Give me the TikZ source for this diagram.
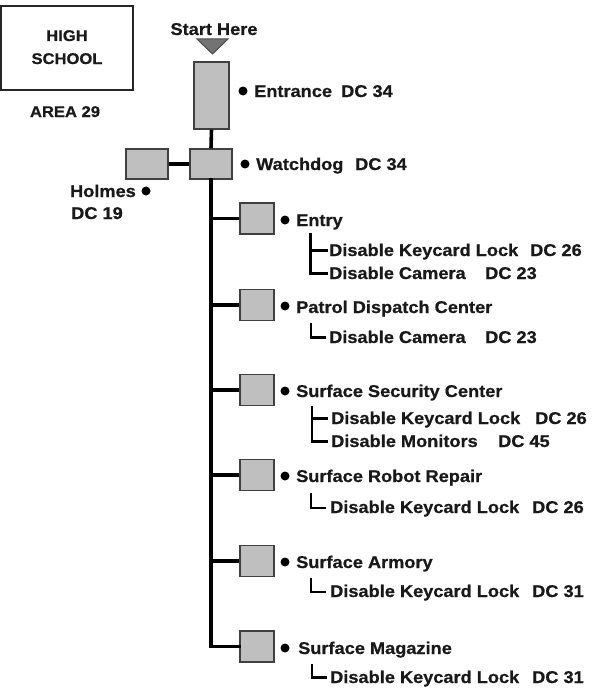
\documentclass[tikz,border=0pt]{standalone}
\usepackage{fontspec}
\setmainfont{Liberation Sans}[FakeStretch=1.07,BoldFeatures={FakeBold=0.7}]
\begin{document}
\begin{tikzpicture}[x=1pt,y=-1pt,
  lbl/.style={anchor=base west,inner sep=0pt,font=\bfseries\fontsize{17}{20}\selectfont,text=black!90},
  captxt/.style={anchor=base,inner sep=0pt,font=\bfseries\fontsize{15.5}{18}\selectfont,text=black!90},
  room/.style={draw=black!75,line width=1.5pt,fill=black!25,inner sep=0pt,minimum width=34pt,minimum height=31pt},
  bullet/.style={circle,fill=black,inner sep=0pt,minimum size=9pt},
  trunk/.style={line width=3.6pt,black},
  sub/.style={line width=2.4pt,black}]
\useasboundingbox (0,0) rectangle (601,693);

% title block
\node[draw=black!85,line width=1.6pt,minimum width=132pt,minimum height=84pt,inner sep=0pt] (school) at (67,48) {};
\node[captxt] (high) at (67,41) {HIGH};
\node[captxt] (schooltxt) at (67,64) {SCHOOL};
\node[captxt] (area) at (65,117) {AREA 29};

% start marker
\node[lbl,anchor=base] (start) at (214,35) {Start Here};
\draw[fill=black!55,draw=black!70,line width=1pt] (197,39) -- (228,39) -- (212.5,54) -- cycle;

% top rooms
\node[room,minimum width=35pt,minimum height=67pt] (entrance) at (211.5,95.5) {};
\node[room,minimum width=42pt,minimum height=30pt] (watchdog) at (211,164) {};
\node[room,minimum width=42pt,minimum height=30pt] (holmes) at (147,164) {};

% branch rooms
\node[room] (entry) at (257,218.5) {};
\node[room] (patrol) at (257,305) {};
\node[room] (security) at (257,390) {};
\node[room] (robot) at (257,475) {};
\node[room] (armory) at (257,561) {};
\node[room] (magazine) at (257,646.5) {};

% connectors
\draw[trunk] (entrance.south) -- (watchdog.north);
\draw[trunk] (holmes.east) -- (watchdog.west);
\draw[trunk,line cap=rect] (watchdog.south) |- (magazine.west);
\foreach \r in {entry,patrol,security,robot,armory}
  \draw[trunk] (\r.west -| watchdog.south) -- (\r.west);

% bullets
\node[bullet] (b0) at (243,91) {};
\node[bullet] (b1) at (245,164) {};
\node[bullet] (b2) at (146,191) {};
\foreach \n/\y in {3/220,4/306,5/391,6/476,7/562,8/648}
  \node[bullet] (b\n) at (285,\y) {};

% room labels
\node[lbl] (tEntrance) at (254,97) {Entrance};
\node[lbl] (dEntrance) at (341,97) {DC 34};
\node[lbl] (tWatch) at (256,170) {Watchdog};
\node[lbl] (dWatch) at (355,170) {DC 34};
\node[lbl,anchor=base east] (tHolmes) at (136,197) {Holmes};
\node[lbl,anchor=base] (dHolmes) at (97,219) {DC 19};
\node[lbl] (tEntry) at (296,226) {Entry};
\node[lbl] (tPatrol) at (296,313) {Patrol Dispatch Center};
\node[lbl] (tSecurity) at (296,397) {Surface Security Center};
\node[lbl] (tRobot) at (296,482) {Surface Robot Repair};
\node[lbl] (tArmory) at (296,568) {Surface Armory};
\node[lbl] (tMagazine) at (298,654) {Surface Magazine};

% sub-task labels
\node[lbl] (s1) at (329,256) {Disable Keycard Lock};  \node[lbl] (c1) at (530,256) {DC 26};
\node[lbl] (s2) at (329,279) {Disable Camera};        \node[lbl] (c2) at (485,279) {DC 23};
\node[lbl] (s3) at (329,343) {Disable Camera};        \node[lbl] (c3) at (485,343) {DC 23};
\node[lbl] (s4) at (331,424) {Disable Keycard Lock};  \node[lbl] (c4) at (535,424) {DC 26};
\node[lbl] (s5) at (331,447) {Disable Monitors};      \node[lbl] (c5) at (498,447) {DC 45};
\node[lbl] (s6) at (330,513) {Disable Keycard Lock};  \node[lbl] (c6) at (532,513) {DC 26};
\node[lbl] (s7) at (330,597) {Disable Keycard Lock};  \node[lbl] (c7) at (532,597) {DC 31};
\node[lbl] (s8) at (330,683) {Disable Keycard Lock};  \node[lbl] (c8) at (532,683) {DC 31};

% sub-task brackets
\coordinate (k1) at (310.5,233);
\draw[sub] (k1) |- (328,273.5);
\draw[sub] (k1 |- 0,250.5) -- (328,250.5);
\coordinate (k2) at (311,323);
\draw[sub] (k2) |- (326,337.5);
\coordinate (k3) at (312,406);
\draw[sub] (k3) |- (328,441.5);
\draw[sub] (k3 |- 0,418.5) -- (328,418.5);
\coordinate (k4) at (311,493);
\draw[sub] (k4) |- (326,508);
\coordinate (k5) at (311,578);
\draw[sub] (k5) |- (326,592);
\coordinate (k6) at (312,664);
\draw[sub] (k6) |- (327,677.5);
\end{tikzpicture}
\end{document}
